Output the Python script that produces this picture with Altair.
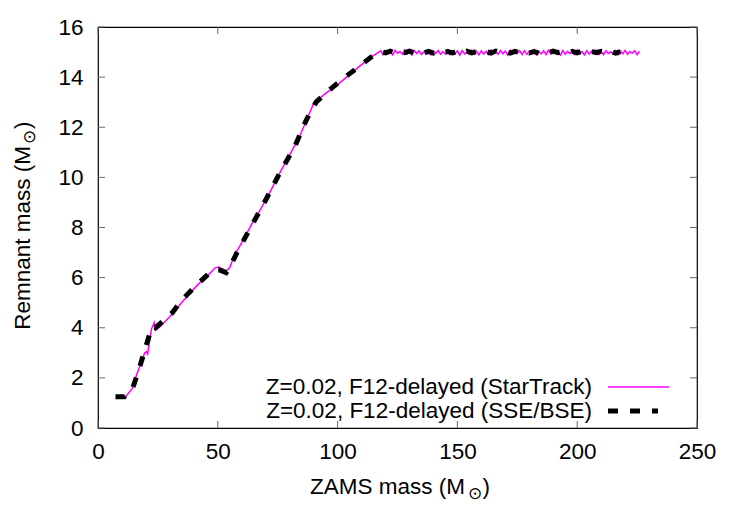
import altair as alt
import pandas as pd

FONT = "Liberation Sans"
FS = 22.5

# ---- StarTrack, Z=0.02, F12-delayed remnant masses ----
st_rise_mass = [8.0, 11.5, 14.5, 16.0, 18.0, 19.5, 20.2, 20.7, 22.3, 23.5, 24.0, 26.0,
                30.0, 34.0, 38.0, 42.0, 46.0, 49.0, 50.5, 51.5, 53.5, 55.0, 57.0, 60.0,
                64.0, 68.0, 72.0, 76.0, 80.0, 84.0, 88.0, 90.0, 95.0, 100.0, 105.0,
                110.0, 114.0]
st_rise_remnant = [1.25, 1.25, 1.60, 2.10, 2.60, 3.00, 3.05, 2.95, 3.95, 4.20, 3.90, 4.05,
                   4.45, 4.90, 5.35, 5.75, 6.10, 6.40, 6.42, 6.33, 6.25, 6.40, 6.90, 7.40,
                   8.10, 8.75, 9.45, 10.20, 10.90, 11.60, 12.50, 12.95, 13.35, 13.70, 14.10,
                   14.50, 14.80]
# plateau sampled every 1 Msun from 118 to 226
st_flat_mass = list(range(118, 227))
st_flat_remnant = [
    15.05, 14.90, 15.06, 14.93, 15.04, 14.89, 15.07, 14.95, 15.02, 14.91,
    15.08, 14.92, 15.03, 14.88, 15.06, 14.94, 15.05, 14.90, 15.01, 14.93,
    15.07, 14.89, 15.04, 14.95, 15.06, 14.91, 15.02, 14.92, 15.08, 14.90,
    15.03, 14.94, 15.05, 14.88, 15.06, 14.93, 15.01, 14.91, 15.07, 14.95,
    15.04, 14.89, 15.05, 14.92, 15.03, 14.90, 15.08, 14.94, 15.02, 14.91,
    15.06, 14.93, 15.04, 14.88, 15.07, 14.92, 15.01, 14.95, 15.05, 14.90,
    15.06, 14.91, 15.03, 14.94, 15.08, 14.89, 15.02, 14.93, 15.05, 14.90,
    15.07, 14.92, 15.04, 14.95, 15.01, 14.88, 15.06, 14.91, 15.03, 14.94,
    15.05, 14.90, 15.08, 14.93, 15.02, 14.89, 15.06, 14.92, 15.04, 14.95,
    15.07, 14.91, 15.03, 14.90, 15.05, 14.94, 15.01, 14.92, 15.06, 14.89,
    15.04, 14.93, 15.07, 14.91, 15.02, 14.95, 15.05, 14.90, 15.03,
]

# ---- SSE/BSE, Z=0.02, F12-delayed remnant masses ----
bse_rise_mass = [7.3, 11.0, 14.5, 17.0, 19.5, 22.5, 24.0, 27.0, 31.0, 35.0, 40.0, 45.0,
                 48.0, 51.0, 53.5, 55.0, 58.0, 64.0, 70.0, 76.0, 82.0, 87.0, 91.0, 98.0,
                 104.5, 110.0, 114.0]
bse_rise_remnant = [1.25, 1.25, 1.60, 2.30, 3.10, 4.05, 4.00, 4.25, 4.60, 5.10, 5.60, 6.05,
                    6.30, 6.30, 6.20, 6.40, 7.00, 8.05, 9.10, 10.20, 11.20, 12.30, 13.00,
                    13.60, 14.10, 14.50, 14.80]
# plateau sampled every 2 Msun from 118 to 218
bse_flat_mass = list(range(118, 219, 2))
bse_flat_remnant = [
    15.02, 14.97, 15.04, 14.96, 15.03, 14.98, 15.04, 14.96, 15.02, 14.97,
    15.03, 14.96, 15.04, 14.98, 15.02, 14.97, 15.03, 14.96, 15.04, 14.97,
    15.02, 14.98, 15.03, 14.96, 15.04, 14.97, 15.02, 14.96, 15.03, 14.98,
    15.04, 14.97, 15.02, 14.96, 15.03, 14.97, 15.04, 14.98, 15.02, 14.96,
    15.03, 14.97, 15.04, 14.96, 15.02, 14.98, 15.03, 14.97, 15.04, 14.96,
    15.02,
]

x_ticks = [0, 50, 100, 150, 200, 250]
y_ticks = [0, 2, 4, 6, 8, 10, 12, 14, 16]

legend_startrack = "Z=0.02, F12-delayed (StarTrack)"
legend_bse = "Z=0.02, F12-delayed (SSE/BSE)"

st = pd.DataFrame({"mass": st_rise_mass + st_flat_mass,
                   "remnant": st_rise_remnant + st_flat_remnant})
bse = pd.DataFrame({"mass": bse_rise_mass + bse_flat_mass,
                    "remnant": bse_rise_remnant + bse_flat_remnant})

W, H = 599, 401

xs = alt.Scale(domain=[0, 250], nice=False, zero=False)
ys = alt.Scale(domain=[0, 16], nice=False, zero=False)
xax = alt.Axis(values=x_ticks, title=None, ticks=False, domain=False, grid=False,
               labelFont=FONT, labelFontSize=FS, labelColor="black",
               labelPadding=12, labelFlush=False, labelOverlap=False)
yax = alt.Axis(values=y_ticks, title=None, ticks=False, domain=False, grid=False,
               labelFont=FONT, labelFontSize=FS, labelColor="black",
               labelPadding=15, labelFlush=False, labelOverlap=False)

st_line = alt.Chart(st).mark_line(color="#ff00ff", strokeWidth=1.5).encode(
    x=alt.X("mass:Q", scale=xs, axis=xax),
    y=alt.Y("remnant:Q", scale=ys, axis=yax),
    order="mass:Q",
)
bse_line = alt.Chart(bse).mark_line(color="black", strokeWidth=5,
                                    strokeDash=[10, 12]).encode(
    x=alt.X("mass:Q", scale=xs, axis=xax),
    y=alt.Y("remnant:Q", scale=ys, axis=yax),
    order="mass:Q",
)

# inward tick marks on all four sides
xt = pd.DataFrame({"v": x_ticks})
yt = pd.DataFrame({"v": y_ticks})
TICK = 7
tick_color = "#666666"
bottom_ticks = alt.Chart(xt).mark_rule(color=tick_color, strokeWidth=1).encode(
    x=alt.X("v:Q", scale=xs, axis=xax), y=alt.value(H), y2=alt.value(H - TICK))
top_ticks = alt.Chart(xt).mark_rule(color=tick_color, strokeWidth=1).encode(
    x=alt.X("v:Q", scale=xs, axis=xax), y=alt.value(0), y2=alt.value(TICK))
left_ticks = alt.Chart(yt).mark_rule(color=tick_color, strokeWidth=1).encode(
    y=alt.Y("v:Q", scale=ys, axis=yax), x=alt.value(0), x2=alt.value(TICK))
right_ticks = alt.Chart(yt).mark_rule(color=tick_color, strokeWidth=1).encode(
    y=alt.Y("v:Q", scale=ys, axis=yax), x=alt.value(W), x2=alt.value(W - TICK))


def text(txt, x, y, size=FS, align="center", baseline="alphabetic", angle=0):
    return alt.Chart(alt.Data(values=[{}])).mark_text(
        text=txt, font=FONT, fontSize=size, color="black",
        align=align, baseline=baseline, angle=angle,
    ).encode(x=alt.value(x), y=alt.value(y))


# axis titles with a subscripted solar symbol
x_title = [
    text("ZAMS mass (M", 367, 467, align="right"),
    text("\u2299", 376.5, 472, size=17),
    text(")", 384.5, 467, align="left"),
]
y_title = [
    text("Remnant mass (M", -68, 119, align="right", angle=270),
    text("\u2299", -63, 110, size=17, angle=270),
    text(")", -68, 102, align="left", angle=270),
]

# key in the lower right, samples to the right of the labels
legend = [
    text(legend_startrack, 494, 360, align="right", baseline="middle"),
    text(legend_bse, 494, 384, align="right", baseline="middle"),
    alt.Chart(alt.Data(values=[{}])).mark_rule(color="#ff00ff", strokeWidth=1.5).encode(
        x=alt.value(510), x2=alt.value(571), y=alt.value(360)),
    alt.Chart(alt.Data(values=[{}])).mark_rule(color="black", strokeWidth=5,
                                               strokeDash=[10, 12]).encode(
        x=alt.value(510), x2=alt.value(560), y=alt.value(384)),
]

chart = alt.layer(
    st_line, bse_line,
    bottom_ticks, top_ticks, left_ticks, right_ticks,
    *x_title, *y_title, *legend,
).properties(
    width=W, height=H,
    autosize=alt.AutoSizeParams(type="none"),
    padding={"left": 98, "top": 27, "right": 53, "bottom": 97},
    background="white",
).configure_view(stroke="black", strokeWidth=1.2)

chart.save("out.html", embed_options={"renderer": "svg", "actions": False})
